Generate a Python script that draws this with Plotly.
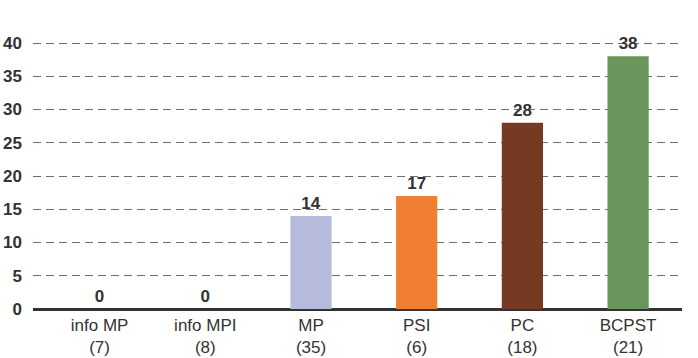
import plotly.graph_objects as go

categories = ["info MP<br>(7)", "info MPI<br>(8)", "MP<br>(35)", "PSI<br>(6)", "PC<br>(18)", "BCPST<br>(21)"]
values = [0, 0, 14, 17, 28, 38]
colors = ["#b6bbdb", "#b6bbdb", "#b6bbdb", "#f07f33", "#763a22", "#6a955a"]
y_ticks = [0, 5, 10, 15, 20, 25, 30, 35, 40]

fig = go.Figure(go.Bar(
    x=list(range(len(categories))),
    y=values,
    marker=dict(color=colors, line=dict(width=0)),
    width=0.39,
    text=[str(v) for v in values],
    textposition="outside",
    textfont=dict(family="Liberation Sans, Arial", size=17, color="#333333", weight="bold"),
    cliponaxis=False,
))

fig.update_layout(
    width=698, height=358,
    margin=dict(l=33, r=16, t=41, b=49),
    paper_bgcolor="white", plot_bgcolor="white",
    showlegend=False,
    font=dict(family="Liberation Sans, Arial", color="#333333"),
    xaxis=dict(
        range=[-0.63, 5.51],
        tickmode="array",
        tickvals=list(range(len(categories))),
        ticktext=categories,
        tickfont=dict(size=17, color="#333333"),
        showgrid=False, zeroline=False,
        showline=False, ticks="",
        ticklabelstandoff=4,
        automargin=False,
    ),
    yaxis=dict(
        range=[0, 40.3],
        tickmode="array",
        tickvals=y_ticks,
        tickfont=dict(size=17, color="#333333", weight="bold"),
        showgrid=True, gridcolor="#6e6e6e", gridwidth=1, griddash="8px,5px",
        zeroline=True, zerolinecolor="#333333", zerolinewidth=3,
        ticks="", ticklabelstandoff=10,
        automargin=False,
    ),
)

fig.write_html(
    "out.html",
    config={"displayModeBar": False},
    post_script="document.body.style.margin='0px';document.body.style.padding='0px';",
)
